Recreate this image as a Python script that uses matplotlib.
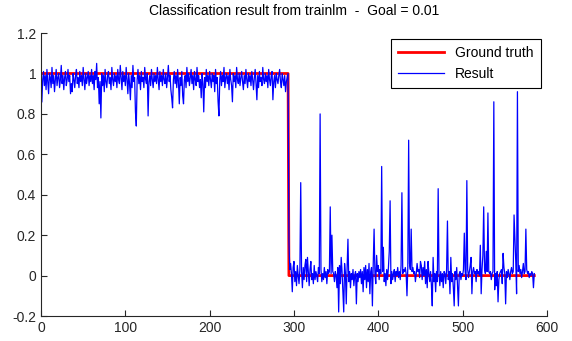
import numpy as np
import matplotlib

matplotlib.use("Agg")
import matplotlib.pyplot as plt

# Result values, first block (class 1, x = 1..293)
result_class1 = [
    0.86, 0.97, 1.01, 0.94, 0.99, 0.92, 1.02, 0.96, 0.90, 1.00, 0.98, 0.93, 1.03, 0.95, 0.99, 0.91, 0.97, 1.02, 0.94, 0.98,
    1.00, 0.93, 0.97, 1.04, 0.95, 0.99, 0.92, 0.98, 1.01, 0.94, 0.97, 1.02, 0.96, 0.99, 0.90, 0.95, 0.91, 1.00, 0.97, 0.93,
    0.99, 1.02, 0.95, 0.98, 0.93, 1.01, 0.96, 0.99, 0.94, 1.03, 0.97, 0.92, 1.00, 0.95, 0.98, 1.01, 0.94, 0.99, 0.96, 1.02,
    0.95, 0.99, 0.92, 1.01, 0.97, 1.05, 0.93, 0.98, 0.85, 0.96, 0.78, 1.00, 0.94, 0.99, 0.91, 1.02, 0.96, 0.93, 0.99, 1.01,
    0.95, 0.98, 0.92, 1.03, 0.97, 0.94, 1.00, 0.96, 0.99, 0.93, 1.02, 0.97, 0.95, 1.04, 0.98, 0.92, 1.01, 0.96, 0.99, 0.94,
    1.03, 0.97, 0.90, 1.00, 0.95, 0.87, 0.99, 0.93, 1.04, 0.96, 0.98, 0.81, 0.74, 0.97, 1.02, 0.95, 0.99, 0.92, 1.01, 0.96,
    0.98, 0.93, 1.03, 0.97, 0.95, 1.00, 0.79, 0.96, 0.99, 0.94, 1.02, 0.97, 0.93, 1.00, 0.96, 0.99, 0.95, 1.03, 0.97, 0.92,
    1.01, 0.96, 0.99, 0.94, 1.02, 0.97, 0.95, 1.00, 0.93, 0.98, 1.04, 0.96, 0.99, 0.92, 0.88, 0.83, 0.97, 1.01, 0.95, 0.99,
    0.93, 1.02, 0.96, 0.85, 0.98, 0.94, 1.01, 0.89, 0.85, 0.97, 0.99, 0.93, 1.03, 0.96, 1.00, 0.94, 0.98, 1.02, 0.95, 0.99,
    0.92, 1.01, 0.97, 0.94, 1.03, 0.96, 0.99, 0.93, 0.97, 0.88, 1.00, 0.95, 0.81, 0.98, 0.93, 1.02, 0.96, 0.99, 0.94, 1.01,
    0.97, 0.93, 1.00, 0.96, 0.99, 0.91, 1.02, 0.95, 0.98, 0.86, 0.79, 0.97, 1.01, 0.94, 0.99, 0.96, 1.03, 0.93, 0.98, 1.00,
    0.95, 0.99, 0.92, 1.02, 0.97, 0.94, 0.86, 1.00, 0.96, 0.99, 0.93, 1.03, 0.97, 0.95, 1.00, 0.94, 0.98, 1.01, 0.96, 0.92,
    0.99, 0.95, 1.02, 0.97, 0.93, 1.00, 0.96, 0.99, 0.94, 1.01, 0.97, 0.92, 0.98, 1.02, 0.95, 0.87, 0.99, 0.93, 1.01, 0.96,
    0.98, 0.94, 1.03, 0.97, 0.95, 1.00, 0.96, 0.99, 0.93, 1.02, 0.97, 0.94, 0.99, 1.01, 0.87, 0.96, 0.99, 0.93, 1.00, 0.97,
    0.95, 0.99, 1.02, 0.96, 0.93, 1.00, 0.97, 0.94, 0.99, 0.91, 0.96, 0.98, 1.00,
]

# second block (class 0, x = 294..585)
result_class0 = [
    0.17, 0.03, 0.06, 0.01, -0.08, 0.04, 0.07, -0.03, 0.02, -0.05, 0.05, 0.00, -0.04, 0.03, 0.46, 0.02, -0.06, 0.04, -0.02, 0.05,
    0.08, -0.03, 0.09, 0.02, -0.05, 0.03, 0.07, -0.02, 0.01, -0.04, 0.05, -0.02, 0.02, 0.00, -0.03, 0.04, 0.01, 0.80, 0.03, -0.03,
    0.01, -0.02, 0.04, -0.01, 0.02, -0.04, 0.03, 0.01, 0.02, 0.34, 0.01, 0.20, 0.02, 0.01, -0.03, 0.02, 0.00, -0.06, 0.04, -0.18,
    0.05, -0.04, 0.09, 0.02, -0.08, -0.18, 0.06, 0.01, -0.14, 0.04, 0.18, -0.03, 0.02, -0.06, 0.01, -0.02, 0.03, -0.05, 0.00, 0.02,
    -0.14, 0.01, -0.03, 0.02, -0.01, 0.03, -0.04, 0.02, -0.08, 0.04, -0.02, 0.05, -0.06, 0.03, -0.03, 0.06, -0.09, 0.02, 0.04, -0.15,
    0.06, 0.23, 0.01, -0.04, 0.10, 0.02, 0.05, -0.02, 0.03, 0.01, 0.54, 0.02, 0.14, -0.03, 0.01, -0.05, 0.03, -0.02, 0.04, 0.12,
    0.37, -0.04, 0.02, -0.02, 0.01, 0.03, -0.03, 0.02, 0.00, 0.04, -0.01, 0.02, -0.02, 0.05, 0.41, 0.01, 0.03, 0.02, 0.04, 0.01,
    -0.10, 0.04, 0.67, 0.06, 0.03, 0.23, 0.02, 0.04, 0.01, 0.02, -0.03, 0.01, 0.06, 0.02, 0.03, -0.01, 0.07, 0.05, -0.02, 0.04,
    0.00, 0.07, -0.04, 0.03, -0.06, 0.07, 0.01, -0.03, 0.02, -0.05, -0.15, 0.09, -0.03, 0.01, -0.08, 0.02, -0.03, 0.43, 0.01, -0.05,
    0.02, -0.03, 0.01, -0.06, 0.02, 0.01, -0.04, 0.03, 0.27, -0.02, 0.02, -0.09, 0.09, -0.03, 0.01, -0.06, -0.15, 0.02, -0.02, 0.04,
    -0.05, -0.15, 0.01, 0.02, -0.02, 0.01, 0.00, 0.03, 0.21, 0.02, -0.02, 0.47, 0.03, -0.01, 0.02, 0.05, 0.09, -0.09, 0.02, 0.04,
    0.01, 0.02, -0.03, 0.03, 0.01, 0.02, 0.00, 0.15, -0.09, 0.03, 0.10, 0.34, 0.03, 0.01, 0.12, 0.02, 0.31, 0.02, 0.01, 0.02,
    -0.02, 0.01, 0.02, 0.86, -0.07, 0.01, -0.05, 0.02, -0.13, -0.02, 0.01, 0.02, 0.03, -0.04, 0.11, 0.04, 0.01, -0.14, 0.02, -0.01,
    0.03, 0.01, -0.02, 0.02, 0.04, 0.01, 0.02, 0.30, 0.19, 0.07, -0.09, 0.91, 0.02, 0.05, 0.01, 0.03, -0.01, 0.02, 0.06, 0.01,
    0.02, 0.23, 0.03, 0.01, 0.02, -0.01, 0.01, 0.00, 0.02, 0.01, -0.06, 0.01,
]

class_labels = [1.0, 0.0]

result = np.array(result_class1 + result_class0)
truth = np.concatenate([np.full(len(result_class1), class_labels[0]),
                        np.full(len(result_class0), class_labels[1])])
x = np.arange(1, len(result) + 1)

plt.rcParams["font.family"] = ["Liberation Sans", "DejaVu Sans"]

fig = plt.figure(figsize=(5.72, 3.41), dpi=100)
ax = fig.add_axes([0.0717, 0.0733, 0.8845, 0.8297])

ax.plot(x, truth, color="#ff0000", linewidth=2, label="Ground truth")
ax.plot(x, result, color="#0000ff", linewidth=0.9, label="Result")

ax.set_xlim(0, 600)
ax.set_ylim(-0.2, 1.2)
ax.set_xticks(np.arange(0, 601, 100))
ax.set_yticks([-0.2, 0, 0.2, 0.4, 0.6, 0.8, 1, 1.2])
ax.set_yticklabels(["-0.2", "0", "0.2", "0.4", "0.6", "0.8", "1", "1.2"])
ax.tick_params(direction="in", length=4, labelsize=10, width=0.8, colors="#262626")
for side in ("top", "right"):
    ax.spines[side].set_visible(False)
for side in ("left", "bottom"):
    ax.spines[side].set_color("#262626")
    ax.spines[side].set_linewidth(0.8)

ax.set_title("Classification result from trainlm  -  Goal = 0.01", fontsize=10, pad=13)

leg = ax.legend(loc="upper right", bbox_to_anchor=(0.997, 0.995), fontsize=10,
                fancybox=False, framealpha=1, edgecolor="black",
                handlelength=3.3, borderpad=0.55, labelspacing=0.45,
                borderaxespad=0.3)
leg.get_frame().set_linewidth(0.8)

fig.savefig("out.png", dpi=100)
